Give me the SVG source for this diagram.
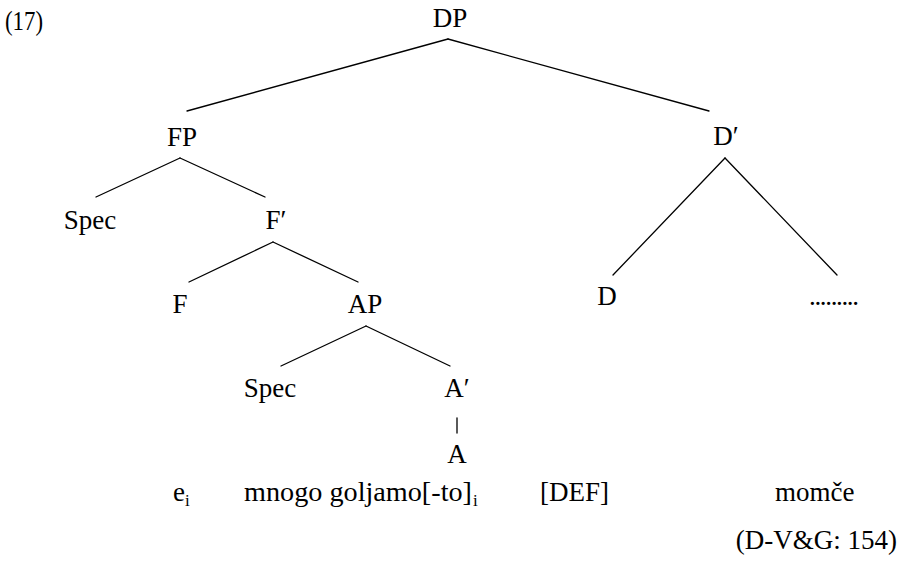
<svg xmlns="http://www.w3.org/2000/svg" width="901" height="568" viewBox="0 0 901 568">
  <style>
    text { font-family: "Liberation Serif", "Times New Roman", "DejaVu Serif", serif; font-size: 27px; fill: #000; }
    .n { text-anchor: middle; }
    .sub { font-size: 17px; }
    .edge { stroke: #000; stroke-width: 1.3; fill: none; stroke-linecap: round; }
  </style>
  <rect width="901" height="568" fill="#fff"/>
  <text id="ex-num" x="5" y="30" textLength="38" lengthAdjust="spacingAndGlyphs">(17)</text>

  <!-- tree branches -->
  <g id="edges">
    <line class="edge" x1="448" y1="39" x2="187" y2="111"/>
    <line class="edge" x1="448" y1="39" x2="709" y2="111"/>
    <line class="edge" x1="180" y1="158" x2="96" y2="197"/>
    <line class="edge" x1="180" y1="158" x2="265" y2="197"/>
    <line class="edge" x1="273" y1="242" x2="189" y2="282"/>
    <line class="edge" x1="273" y1="242" x2="358" y2="282"/>
    <line class="edge" x1="366" y1="326" x2="281" y2="366"/>
    <line class="edge" x1="366" y1="326" x2="450" y2="366"/>
    <line class="edge" x1="457" y1="418" x2="457" y2="433"/>
    <line class="edge" x1="725" y1="158" x2="613" y2="275"/>
    <line class="edge" x1="725" y1="158" x2="837" y2="275"/>
  </g>

  <!-- node labels -->
  <g id="DP"><text class="n" x="450" y="27">DP</text></g>
  <g id="FP"><text class="n" x="182" y="146">FP</text></g>
  <g id="Dbar"><text class="n" x="726" y="145">D′</text></g>
  <g id="Spec1"><text class="n" x="90" y="229">Spec</text></g>
  <g id="Fbar"><text class="n" x="276" y="229">F′</text></g>
  <g id="F"><text class="n" x="180" y="313">F</text></g>
  <g id="AP"><text class="n" x="365" y="313">AP</text></g>
  <g id="D"><text class="n" x="607" y="305">D</text></g>
  <g id="dots"><text x="809" y="305" textLength="50" lengthAdjust="spacing">.........</text></g>
  <g id="Spec2"><text class="n" x="270" y="397">Spec</text></g>
  <g id="Abar"><text class="n" x="457" y="397">A′</text></g>
  <g id="A"><text class="n" x="457" y="463">A</text></g>

  <!-- terminal string -->
  <g id="words">
    <text x="173" y="501">e<tspan class="sub" dy="5">i</tspan></text>
    <text x="244" y="501" textLength="228" lengthAdjust="spacingAndGlyphs">mnogo goljamo[-to]</text>
    <text x="473" y="506" class="sub">i</text>
    <text x="540" y="501">[DEF]</text>
    <text x="775" y="501">momče</text>
  </g>
  <text id="source" x="897" y="549" text-anchor="end">(D-V&amp;G: 154)</text>
</svg>
